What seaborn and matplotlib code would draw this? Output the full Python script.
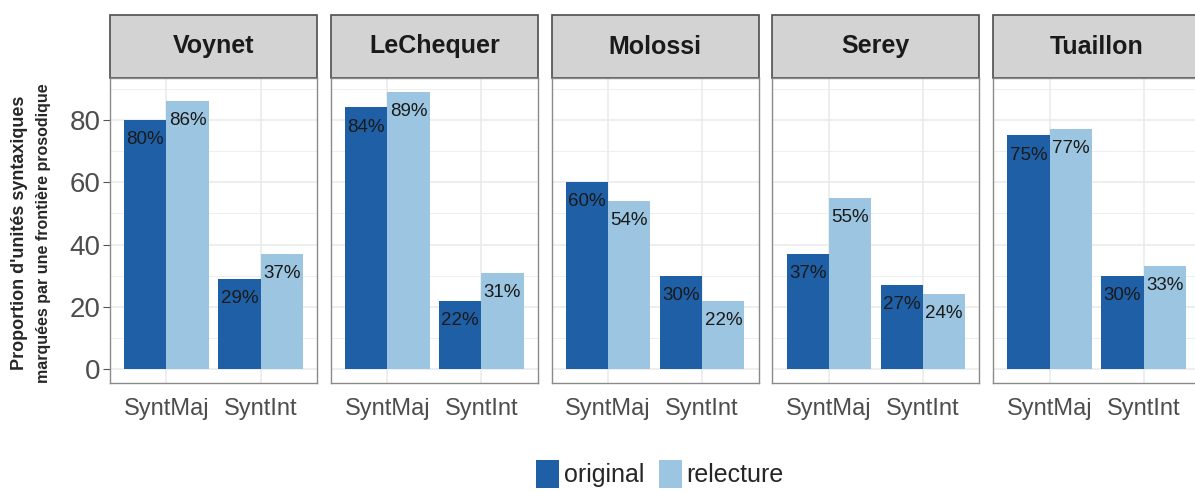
import matplotlib
matplotlib.use("Agg")
import matplotlib.pyplot as plt
import seaborn as sns
import pandas as pd
from matplotlib.patches import Rectangle, Patch

# data
speakers = ["Voynet", "LeChequer", "Molossi", "Serey", "Tuaillon"]
units = ["SyntMaj", "SyntInt"]
versions = ["original", "relecture"]
original_maj = [80, 84, 60, 37, 75]
relecture_maj = [86, 89, 54, 55, 77]
original_int = [29, 22, 30, 27, 30]
relecture_int = [37, 31, 22, 24, 33]

rows = []
for i, sp in enumerate(speakers):
    rows.append((sp, "SyntMaj", "original", original_maj[i]))
    rows.append((sp, "SyntMaj", "relecture", relecture_maj[i]))
    rows.append((sp, "SyntInt", "original", original_int[i]))
    rows.append((sp, "SyntInt", "relecture", relecture_int[i]))
df = pd.DataFrame(rows, columns=["speaker", "unit", "version", "pct"])

sns.set_style("white")
plt.rcParams["font.family"] = ["Liberation Sans", "DejaVu Sans"]

palette = {"original": "#1f5fa6", "relecture": "#9bc5e0"}
border = "#4d4d4d"
grid_col = "#ebebeb"

fig = plt.figure(figsize=(11.95, 4.92), dpi=100)
W, H = 1195, 492
panel_w, step = 207, 220.8
bottom, height = 109, 305
strip_h = 63 / height

for i, sp in enumerate(speakers):
    ax = fig.add_axes([(110 + i * step) / W, bottom / H, panel_w / W, height / H])
    sub = df[df["speaker"] == sp]
    sns.barplot(data=sub, x="unit", y="pct", hue="version", order=units,
                hue_order=versions, palette=palette, width=0.9, saturation=1,
                errorbar=None, ax=ax, legend=False, linewidth=0)
    ax.set_xlim(-0.6, 1.6)
    ax.set_ylim(-4.45, 93.45)
    ax.set_yticks([0, 20, 40, 60, 80])
    ax.set_yticks([10, 30, 50, 70, 90], minor=True)
    ax.set_axisbelow(True)
    ax.grid(True, which="major", color=grid_col, lw=1.2)
    ax.grid(True, which="minor", axis="y", color=grid_col, lw=0.6)
    for s in ax.spines.values():
        s.set_color("#8a8a8a")
        s.set_linewidth(1.0)
    ax.set_xlabel("")
    ax.set_ylabel("")
    ax.tick_params(axis="x", length=5, color="#555555", labelsize=17,
                   labelcolor="#4d4d4d", pad=6)
    ax.tick_params(axis="y", length=5, color="#555555", labelsize=20,
                   labelcolor="#4d4d4d", pad=2, left=(i == 0), labelleft=(i == 0))
    ax.tick_params(which="minor", length=0)

    for cont in ax.containers:
        for bar in cont:
            h = bar.get_height()
            ax.annotate(f"{h:.0f}%", (bar.get_x() + bar.get_width() / 2, h),
                        xytext=(0, -8), textcoords="offset points",
                        ha="center", va="top", fontsize=13.5, color="#1a1a1a")

    # facet strip
    ax.add_patch(Rectangle((0, 1), 1, strip_h, transform=ax.transAxes,
                           facecolor="#d3d3d3", edgecolor=border, lw=1.2,
                           clip_on=False))
    ax.text(0.5, 1 + strip_h / 2, sp, transform=ax.transAxes, ha="center",
            va="center", fontsize=18, fontweight="bold", color="#1a1a1a")

fig.text(20 / W, (bottom + 150) / H, "Proportion d'unités syntaxiques",
         rotation=90, ha="center", va="center", fontsize=13, fontweight="bold")
fig.text(44 / W, (bottom + 150) / H, "marquées par une frontière prosodique",
         rotation=90, ha="center", va="center", fontsize=11.5, fontweight="bold")

handles = [Patch(facecolor=palette[v], edgecolor="none", label=v) for v in versions]
fig.legend(handles=handles, loc="center", bbox_to_anchor=(660 / W, 18 / H),
           ncol=2, frameon=False, fontsize=18, handlelength=0.9,
           handleheight=1.4, handletextpad=0.2, columnspacing=0.6)

fig.savefig("out.png", dpi=100)
